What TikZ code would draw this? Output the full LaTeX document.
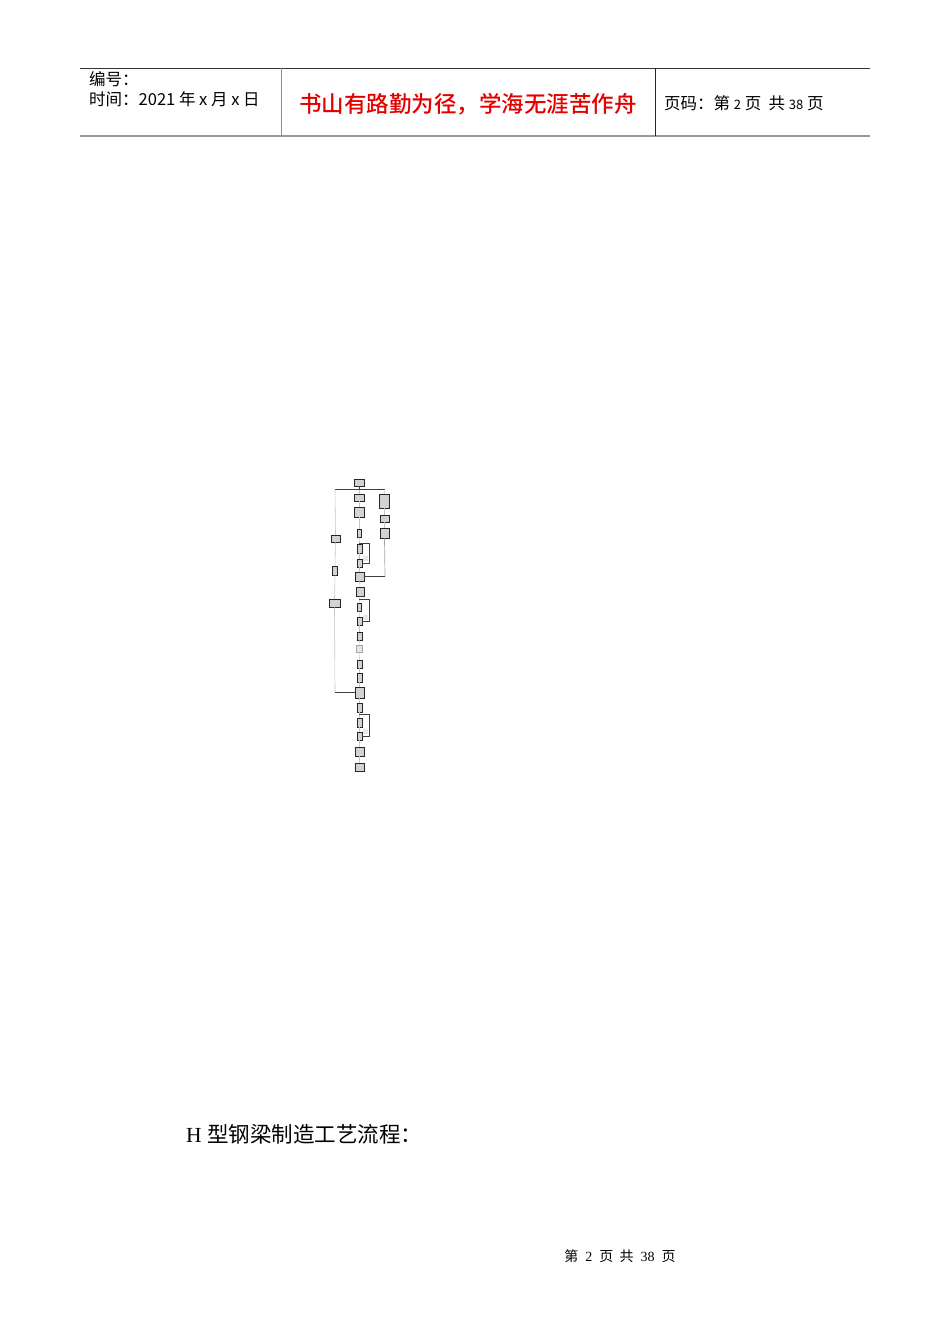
\documentclass[tikz,border=0pt]{standalone}
\usepackage{fontspec}
\newfontfamily\cjk{Noto Sans CJK SC}
\newfontfamily\cjkb{Noto Sans CJK SC Medium}
\setmainfont{Liberation Serif}
\begin{document}
\begin{tikzpicture}[x=1pt,y=-1pt,
  fbox/.style={draw=black!85,line width=0.9pt,fill=gray!35,inner sep=0pt,minimum width=#1},
  fbox/.default=5pt,
  spine/.style={draw=gray!45,line width=0.6pt},
  dark/.style={draw=black!75,line width=0.8pt},
  tag/.style={fill=gray!18,inner sep=0pt,minimum width=5pt,minimum height=5pt},
  htxt/.style={font=\cjk\fontsize{16.5}{18}\selectfont,inner sep=0pt,anchor=west}]
\useasboundingbox (0,0) rectangle (950,1344);
% header
\draw[black!80,line width=0.7pt] (80,68) -- (870,68);
\draw[gray!80,line width=1.6pt] (80,136) -- (870,136);
\draw[gray!90,line width=0.8pt] (281,68) -- (281,136);
\draw[black!85,line width=0.7pt] (655,68) -- (655,136);
\node[htxt] (h1) at (89,79) {编号：};
\node[htxt] (h2) at (89,99) {时间：2021 年 x 月 x 日};
\node[font=\cjkb\fontsize{22.5}{25}\selectfont,text=red!90!black,inner sep=0pt] (title) at (468,104) {书山有路勤为径，学海无涯苦作舟};
\node[htxt] (h3) at (664,103) {页码：第 {\fontsize{13}{14}\selectfont 2} 页\ \ 共 {\fontsize{13}{14}\selectfont 38} 页};
% flowchart - main column
\node[fbox=10pt,minimum height=7pt] (b1) at (359,482.5) {};
\node[fbox=10pt,minimum height=7pt] (b2) at (359,497.5) {};
\node[fbox=10pt,minimum height=10pt] (b3) at (359,512) {};
\node[fbox=4pt,minimum height=8pt] (b4) at (359,533) {};
\node[fbox=5pt,minimum height=9pt] (b5) at (359.5,548.5) {};
\node[fbox=5pt,minimum height=8pt] (b6) at (359.5,563) {};
\node[fbox=9pt,minimum height=9pt] (b7) at (359.5,576.5) {};
\node[fbox=8pt,minimum height=9pt] (b8) at (360,591.5) {};
\node[fbox=4pt,minimum height=8pt] (b9) at (359,607) {};
\node[fbox=5pt,minimum height=8pt] (b10) at (359.5,621) {};
\node[fbox=5pt,minimum height=8pt] (b11) at (359.5,636) {};
\node[fbox=6pt,minimum height=7pt,draw=gray!70,fill=gray!20] (b12) at (359,648.5) {};
\node[fbox=5pt,minimum height=8pt] (b13) at (359.5,664) {};
\node[fbox=5pt,minimum height=9pt] (b14) at (359.5,677.5) {};
\node[fbox=9pt,minimum height=11pt] (b15) at (359.5,692.5) {};
\node[fbox=5pt,minimum height=9pt] (b16) at (359.5,707.5) {};
\node[fbox=5pt,minimum height=9pt] (b17) at (359.5,722.5) {};
\node[fbox=5pt,minimum height=8pt] (b18) at (359.5,736) {};
\node[fbox=9pt,minimum height=9pt] (b19) at (359.5,751.5) {};
\node[fbox=9pt,minimum height=8pt] (b20) at (359.5,767) {};
% right column
\node[fbox=10pt,minimum height=14pt] (r1) at (384.5,501) {};
\node[fbox=9pt,minimum height=7pt] (r2) at (384.5,518.5) {};
\node[fbox=9pt,minimum height=10pt] (r3) at (384.5,533) {};
% left column
\node[fbox=9pt,minimum height=7pt] (l1) at (335.5,538.5) {};
\node[fbox=5pt,minimum height=9pt] (l2) at (335,570.5) {};
\node[fbox=11pt,minimum height=8pt] (l3) at (334.5,603) {};
% loop tags
\node[tag] (t1) at (365,558) {};
\node[tag] (t2) at (365,617) {};
\node[tag] (t3) at (365,731.5) {};
% coordinates
\coordinate (barL) at (335,489.5);
\coordinate (barM) at (359,489.5);
\coordinate (barR) at (385,489.5);
\coordinate (lEnd) at (335,692.5);
\coordinate (rEnd) at (385,576.5);
\coordinate (k1a) at (359,543); \coordinate (k1b) at (369,543); \coordinate (k1c) at (369,563);
\coordinate (k2a) at (359,599); \coordinate (k2b) at (369,599); \coordinate (k2c) at (369,621);
\coordinate (k3a) at (359,714); \coordinate (k3b) at (369,714); \coordinate (k3c) at (369,736);
% spine
\foreach \a/\b in {b2/b3,b3/b4,b4/b5,b5/b6,b6/b7,b7/b8,b8/b9,b9/b10,b10/b11,b11/b12,b12/b13,b13/b14,b14/b15,b15/b16,b16/b17,b17/b18,b18/b19,b19/b20}
  \draw[spine] (\a.south) -- (\b.north);
\draw[spine] (barM) -- (b2.north);
% top bar
\draw[dark] (b1.south) -- (barM);
\draw[dark] (barL) -- (barR);
% left column line
\draw[spine] (barL) -- (l1.north);
\draw[spine] (l1.south) -- (l2.north);
\draw[spine] (l2.south) -- (l3.north);
\draw[spine] (l3.south) -- (lEnd);
\draw[dark] (lEnd) -- (b15.west);
% right column line
\draw[spine] (barR) -- (r1.north);
\draw[spine] (r1.south) -- (r2.north);
\draw[spine] (r2.south) -- (r3.north);
\draw[draw=gray!70,line width=0.7pt] (r3.south) -- (rEnd);
\draw[dark] (rEnd) -- (b7.east);
% loops
\draw[dark] (k1a) -- (k1b) -- (k1c) -- (b6.east);
\draw[dark] (k2a) -- (k2b) -- (k2c) -- (b10.east);
\draw[dark] (k3a) -- (k3b) -- (k3c) -- (b18.east);
% body text
\node[inner sep=0pt,anchor=west] (cap) at (186,1134) {\fontsize{21.5}{25}\selectfont H {\cjk 型钢梁制造工艺流程：}};
% footer
\node[inner sep=0pt] (foot) at (620,1256) {\fontsize{14}{16}\selectfont{\cjk 第}\ \ 2\ \ {\cjk 页\ \ 共}\ \ 38\ \ {\cjk 页}};
\end{tikzpicture}
\end{document}
